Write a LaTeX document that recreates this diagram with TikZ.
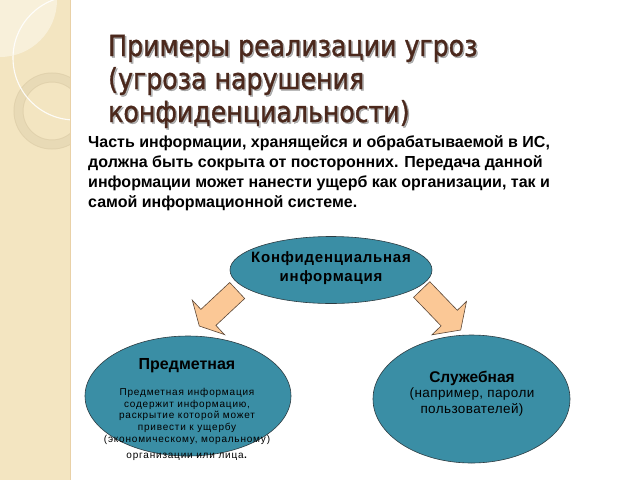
\documentclass[tikz,border=0pt]{standalone}
\usepackage{fontspec}
\setmainfont{Liberation Sans}
\newfontfamily\titlefont{DejaVu Sans}[FakeStretch=0.87, FakeBold=1.2]
\newfontfamily\headfont{Liberation Sans}[LetterSpace=5]
\newfontfamily\smallfont{Liberation Sans}[LetterSpace=8]
\newfontfamily\notefont{Liberation Sans}[LetterSpace=3]
\usetikzlibrary{shapes.geometric}
\definecolor{stripe}{RGB}{243,229,193}
\definecolor{stripelight}{RGB}{248,240,218}
\definecolor{ringc}{RGB}{232,218,182}
\definecolor{ringedge}{RGB}{214,198,160}
\definecolor{titlec}{RGB}{75,40,28}
\definecolor{tealc}{RGB}{58,142,165}
\definecolor{edgec}{RGB}{45,60,66}
\definecolor{peach}{RGB}{251,200,150}
\definecolor{arrowedge}{RGB}{90,70,55}
\tikzset{
  ell/.style={ellipse, draw=edgec, line width=0.6pt, fill=tealc, inner sep=0pt},
  blockarrow/.style={draw=arrowedge, line width=0.6pt, fill=peach, line join=miter},
  titletext/.style={anchor=base west, inner sep=0pt,
     font=\titlefont\fontsize{29}{33}\selectfont},
  titleshadow/.style={titletext, text=black!55, opacity=0.55},
}
\begin{document}
\begin{tikzpicture}[x=1pt,y=-1pt]
\useasboundingbox (0,0) rectangle (640,480);
\fill[white] (0,0) rectangle (640,480);
% left stripe
\fill[stripe] (0,0) rectangle (70,480);
\begin{scope}
  \clip (0,0) rectangle (70,480);
  \fill[stripelight] (0,0) circle (57);
  \draw[ringedge, line width=10pt, opacity=0.6] (52,111) circle (33.5);
  \draw[ringc, line width=8pt] (52,111) circle (33.5);
  \draw[white, line width=1.1pt, opacity=0.9] (75,58) circle (62);
\end{scope}
\draw[stripe!80!brown, line width=0.8pt] (70,0) -- (70,480);
% title
\node[titleshadow] (t1s) at (109.5,57.5) {Примеры реализации угроз};
\node[titleshadow] (t2s) at (109.5,90.5) {(угроза нарушения};
\node[titleshadow] (t3s) at (109.5,123.5) {конфиденциальности)};
\node[titletext, text=titlec] (t1) at (108,56) {Примеры реализации угроз};
\node[titletext, text=titlec] (t2) at (108,89) {(угроза нарушения};
\node[titletext, text=titlec] (t3) at (108,122) {конфиденциальности)};
% body text
\node[anchor=north west, align=left, inner sep=0pt,
  font=\bfseries\fontsize{16}{20}\selectfont] (body) at (88,135)
  {Часть информации, хранящейся и обрабатываемой в ИС,\\
   должна быть сокрыта от посторонних. Передача данной\\
   информации может нанести ущерб как организации, так и\\
   самой информационной системе.};
% ellipses
\node[ell, minimum width=202pt, minimum height=67pt] (conf) at (331,270) {};
\node[align=center, inner sep=0pt, font=\headfont\bfseries\fontsize{15}{19}\selectfont] (conftext) at (331,268)
  {Конфиденциальная\\информация};
\node[ell, minimum width=206pt, minimum height=120pt] (subj) at (188,396) {};
\node[ell, minimum width=197pt, minimum height=128pt] (serv) at (471.5,399) {};
% block arrows
\path[blockarrow] (229.7,282.5) -- (200.9,309.4) -- (192.3,300.2) -- (199.3,326)
  -- (224.5,334.6) -- (215.9,325.4) -- (244.7,298.5) -- cycle;
\path[blockarrow] (429.8,281.7) -- (457.3,310.3) -- (466.5,301.4) -- (460.7,330)
  -- (431.9,334.8) -- (441.1,325.9) -- (413.6,297.3) -- cycle;
% ellipse texts
\node[inner sep=0pt, font=\bfseries\fontsize{16}{19}\selectfont] (subjtitle) at (187,366) {Предметная};
\node[align=center, inner sep=0pt, anchor=north, font=\smallfont\fontsize{10}{11.7}\selectfont] (subjtext) at (187,388)
  {Предметная информация\\содержит информацию,\\раскрытие которой может\\привести к ущербу\\(экономическому, моральному)};
\node[inner sep=0pt, anchor=base, font=\smallfont\fontsize{10}{12}\selectfont] (subjlast) at (187,458)
  {организации или лица{\fontsize{14}{14}\selectfont.}};
\node[inner sep=0pt, font=\bfseries\fontsize{15.5}{19}\selectfont] (servtitle) at (472,378) {Служебная};
\node[align=center, inner sep=0pt, anchor=north, font=\notefont\fontsize{13.5}{16}\selectfont] (servtext) at (472,388)
  {(например, пароли\\пользователей)};
\end{tikzpicture}
\end{document}
